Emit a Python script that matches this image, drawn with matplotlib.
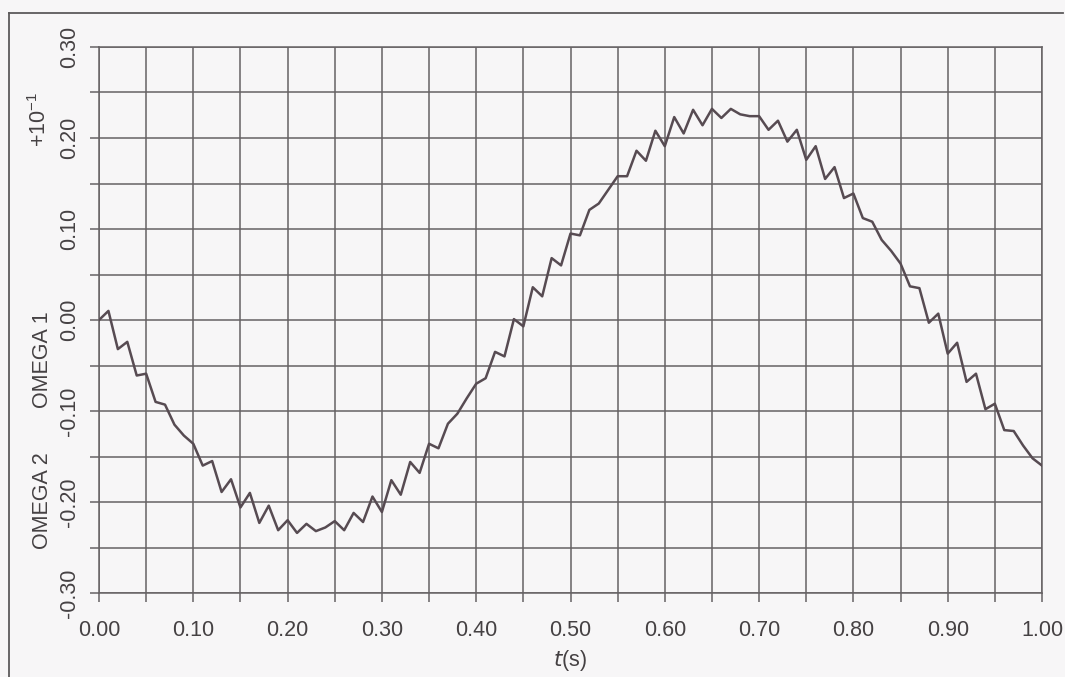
import numpy as np
import matplotlib
matplotlib.use("Agg")
import matplotlib.pyplot as plt
from matplotlib.lines import Line2D
from matplotlib.ticker import MultipleLocator, FormatStrFormatter

plt.rcParams['font.family'] = ['Liberation Sans', 'DejaVu Sans']
plt.rcParams['mathtext.fontset'] = 'custom'
plt.rcParams['mathtext.rm'] = 'Liberation Sans'

# time samples every 0.01 s
t = np.arange(101) / 100.0

# relative angular velocity omega1 - omega2 (x 10^-1)
omega = [
    0.000, 0.010, -0.032, -0.024, -0.061, -0.059, -0.090, -0.093, -0.115, -0.127,
    -0.136, -0.160, -0.155, -0.189, -0.175, -0.206, -0.190, -0.223, -0.204, -0.231,
    -0.220, -0.234, -0.224, -0.232, -0.228, -0.221, -0.231, -0.212, -0.222, -0.194,
    -0.211, -0.176, -0.192, -0.156, -0.168, -0.136, -0.141, -0.114, -0.103, -0.086,
    -0.070, -0.064, -0.035, -0.040, 0.001, -0.007, 0.036, 0.026, 0.068, 0.060,
    0.095, 0.093, 0.121, 0.128, 0.143, 0.158, 0.158, 0.186, 0.175, 0.208,
    0.191, 0.223, 0.205, 0.231, 0.214, 0.232, 0.222, 0.232, 0.226, 0.224,
    0.224, 0.209, 0.219, 0.196, 0.209, 0.176, 0.191, 0.155, 0.168, 0.134,
    0.139, 0.112, 0.108, 0.088, 0.076, 0.062, 0.037, 0.035, -0.003, 0.007,
    -0.037, -0.025, -0.068, -0.059, -0.098, -0.092, -0.121, -0.122, -0.138, -0.152,
    -0.160,
]

xticks = [0.0, 0.1, 0.2, 0.3, 0.4, 0.5, 0.6, 0.7, 0.8, 0.9, 1.0]
yticks = [-0.30, -0.20, -0.10, 0.00, 0.10, 0.20, 0.30]

W, H = 1065, 677
bg = '#f7f6f7'
gridc = '#666264'
textc = '#454143'
fs = 15.5

fig = plt.figure(figsize=(W / 100, H / 100), dpi=100, facecolor=bg)
ax = fig.add_axes([99 / W, 1 - 593 / H, (1042 - 99) / W, (593 - 47) / H])
ax.set_facecolor(bg)

ax.plot(t, omega, color='#574b52', lw=1.8, zorder=3)

ax.set_xlim(0, 1.0)
ax.set_ylim(-0.30, 0.30)
ax.set_xticks(xticks)
ax.set_yticks(yticks)
ax.xaxis.set_minor_locator(MultipleLocator(0.05))
ax.yaxis.set_minor_locator(MultipleLocator(0.05))
ax.xaxis.set_major_formatter(FormatStrFormatter('%.2f'))
ax.yaxis.set_major_formatter(FormatStrFormatter('%.2f'))

ax.grid(True, which='both', color=gridc, lw=1.1)
for s in ax.spines.values():
    s.set_color(gridc)
    s.set_linewidth(1.1)

ax.tick_params(which='both', direction='out', length=6.5, width=1.1, color=gridc,
               labelcolor=textc, labelsize=fs)
ax.tick_params(axis='x', pad=13)
ax.tick_params(axis='y', pad=7)
for lab in ax.get_yticklabels():
    lab.set_rotation(90)
    lab.set_va('center')

ax.set_xlabel(r'$\mathit{t}$(s)', fontsize=fs, color=textc, labelpad=5)

fig.text(43 / W, 1 - 360 / H, 'OMEGA 1', rotation=90, ha='center', va='center',
         fontsize=fs, color=textc)
fig.text(43 / W, 1 - 501 / H, 'OMEGA 2', rotation=90, ha='center', va='center',
         fontsize=fs, color=textc)
fig.text(40 / W, 1 - 119 / H, r'$+10^{-1}$', rotation=90, ha='center', va='center',
         fontsize=fs, color=textc)

# page frame around the figure
fig.add_artist(Line2D([9 / W, 1063 / W], [1 - 13 / H, 1 - 13 / H], color='#5c5a5b', lw=1.3))
fig.add_artist(Line2D([9 / W, 9 / W], [1 - 13 / H, 0], color='#5c5a5b', lw=1.3))

fig.savefig('out.png', dpi=100, facecolor=bg)
